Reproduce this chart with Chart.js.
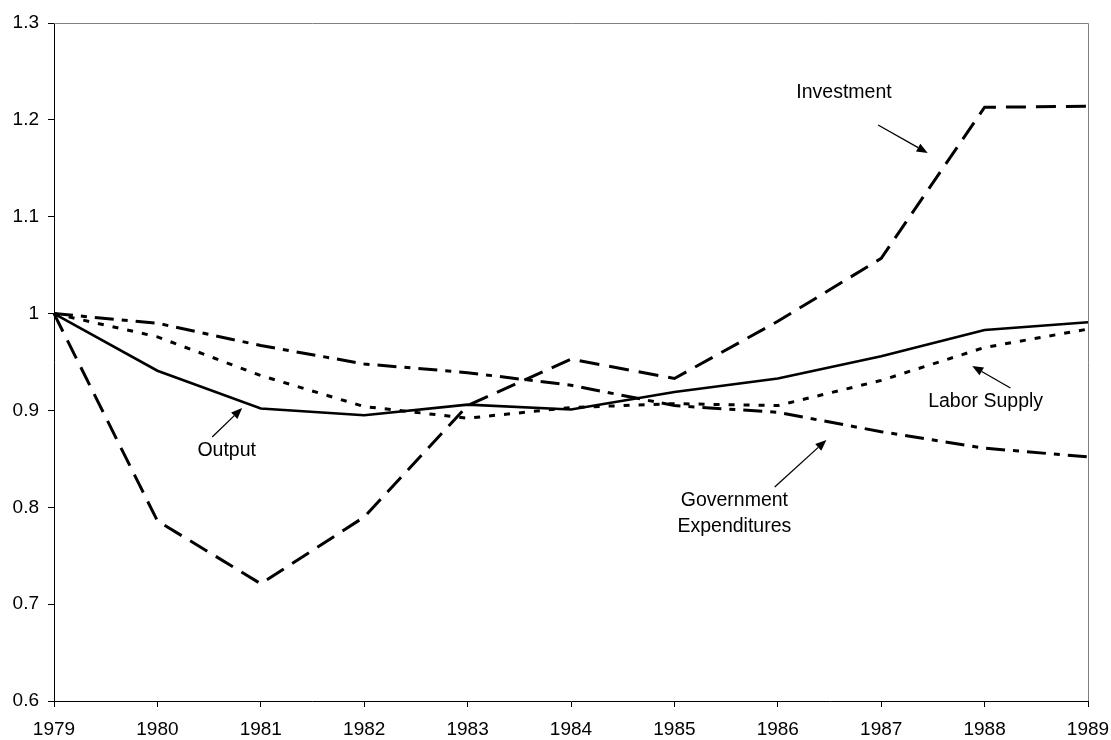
<!DOCTYPE html>
<html>
<head>
<meta charset="utf-8">
<script src="https://cdn.jsdelivr.net/npm/chart.js@4"></script>
<style>
html,body{margin:0;padding:0;background:#fff;}
#wrap{width:1111px;height:740px;}
</style>
</head>
<body>
<div id="wrap"><canvas id="c" width="1111" height="740"></canvas></div>
<script>
const years = ['1979','1980','1981','1982','1983','1984','1985','1986','1987','1988','1989'];
const output      = [1.000, 0.941, 0.902, 0.895, 0.906, 0.901, 0.919, 0.933, 0.956, 0.983, 0.991];
const investment  = [1.000, 0.786, 0.721, 0.790, 0.905, 0.953, 0.933, 0.992, 1.057, 1.213, 1.214];
const laborSupply = [1.000, 0.976, 0.936, 0.904, 0.892, 0.903, 0.907, 0.905, 0.931, 0.965, 0.984];
const govExp      = [1.000, 0.990, 0.967, 0.948, 0.939, 0.926, 0.905, 0.898, 0.878, 0.861, 0.852];
const yTicks = [0.6, 0.7, 0.8, 0.9, 1, 1.1, 1.2, 1.3];

// annotation labels (positions in data units: category index, value)
const notes = [
  {lines:['Investment'], x:7.64, y:1.2277, ax1:7.97, ay1:1.1947, ax2:8.45, ay2:1.1658},
  {lines:['Output'], x:1.67, y:0.858, ax1:1.53, ay1:0.8726, ax2:1.82, ay2:0.9025},
  {lines:['Labor Supply'], x:9.01, y:0.9087, ax1:9.25, ay1:0.9232, ax2:8.88, ay2:0.9459},
  {lines:['Government','Expenditures'], x:6.58, y:0.793, ax1:6.97, ay1:0.821, ax2:7.47, ay2:0.8695}
];

const FONT = 'Liberation Sans, Arial, sans-serif';

const boxPlugin = {
  id:'box',
  beforeDatasetsDraw(chart){
    const a = chart.chartArea, ctx = chart.ctx;
    ctx.save();
    ctx.strokeStyle = '#808080';
    ctx.lineWidth = 1;
    ctx.beginPath();
    ctx.moveTo(a.left, a.top + 0.5);
    ctx.lineTo(a.right + 0.5, a.top + 0.5);
    ctx.lineTo(a.right + 0.5, a.bottom);
    ctx.stroke();
    ctx.restore();
  }
};

const notePlugin = {
  id:'notes',
  afterDatasetsDraw(chart){
    const ctx = chart.ctx, xs = chart.scales.x, ys = chart.scales.y;
    ctx.save();
    ctx.fillStyle = '#000';
    ctx.strokeStyle = '#000';
    ctx.font = '19.5px ' + FONT;
    ctx.textAlign = 'center';
    ctx.textBaseline = 'middle';
    notes.forEach(n => {
      const px = xs.getPixelForValue(n.x), py = ys.getPixelForValue(n.y);
      const lh = 26;
      n.lines.forEach((t,i) => {
        ctx.fillText(t, px, py + (i - (n.lines.length-1)/2) * lh);
      });
      const x1 = xs.getPixelForValue(n.ax1), y1 = ys.getPixelForValue(n.ay1);
      const x2 = xs.getPixelForValue(n.ax2), y2 = ys.getPixelForValue(n.ay2);
      const ang = Math.atan2(y2 - y1, x2 - x1);
      const hl = 11, hw = 4.5;
      const bx = x2 - hl*Math.cos(ang), by = y2 - hl*Math.sin(ang);
      ctx.lineWidth = 1.3;
      ctx.beginPath();
      ctx.moveTo(x1, y1);
      ctx.lineTo(bx, by);
      ctx.stroke();
      ctx.beginPath();
      ctx.moveTo(x2, y2);
      ctx.lineTo(bx + hw*Math.sin(ang), by - hw*Math.cos(ang));
      ctx.lineTo(bx - hw*Math.sin(ang), by + hw*Math.cos(ang));
      ctx.closePath();
      ctx.fill();
    });
    ctx.restore();
  }
};

function ds(label, data, dash, width){
  return {label, data, borderColor:'#000', backgroundColor:'#000', borderWidth:width,
          borderDash:dash, pointRadius:0, tension:0, fill:false, borderCapStyle:'butt'};
}

new Chart(document.getElementById('c'), {
  type:'line',
  data:{
    labels: years,
    datasets:[
      ds('Output', output, [], 2.6),
      ds('Investment', investment, [20,10], 3),
      ds('Labor Supply', laborSupply, [6,9], 3),
      ds('Government Expenditures', govExp, [19,8,6,8], 3)
    ]
  },
  options:{
    responsive:false,
    animation:false,
    devicePixelRatio:1,
    layout:{padding:{top:23, right:23, left:0, bottom:0}},
    plugins:{legend:{display:false}, tooltip:{enabled:false}},
    scales:{
      x:{
        type:'category',
        offset:false,
        grid:{display:true, drawOnChartArea:false, drawTicks:true, tickLength:6, color:'#000'},
        border:{display:true, color:'#000', width:1},
        ticks:{color:'#000', font:{family:FONT, size:19}, padding:11, maxRotation:0, autoSkip:false},
        afterFit(s){ s.height = 39; s.paddingLeft = 0; s.paddingRight = 0; }
      },
      y:{
        type:'linear',
        min:0.6, max:1.3,
        afterBuildTicks(s){ s.ticks = yTicks.map(v => ({value:v})); },
        grid:{display:true, drawOnChartArea:false, drawTicks:true, tickLength:6, color:'#000'},
        border:{display:true, color:'#000', width:1},
        ticks:{color:'#000', font:{family:FONT, size:19}, padding:9,
               callback:(v)=> String(Math.round(v*10)/10)},
        afterFit(s){ s.width = 54; s.paddingTop = 0; s.paddingBottom = 0; }
      }
    }
  },
  plugins:[boxPlugin, notePlugin]
});
</script>
</body>
</html>
